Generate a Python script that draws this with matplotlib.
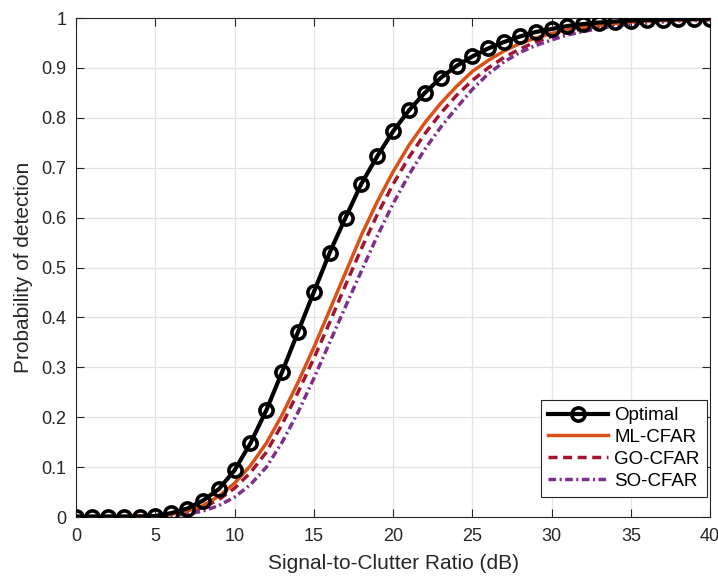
import matplotlib.pyplot as plt
import numpy as np

plt.rcParams['font.family'] = ['Liberation Sans', 'DejaVu Sans']

# SCR grid (dB)
scr = list(range(0, 41))

optimal = [0.001, 0.001, 0.001, 0.001, 0.001, 0.002, 0.008, 0.017, 0.033, 0.056,
           0.094, 0.148, 0.214, 0.291, 0.371, 0.451, 0.530, 0.600, 0.668, 0.723,
           0.773, 0.815, 0.850, 0.880, 0.904, 0.923, 0.939, 0.952, 0.963, 0.972,
           0.978, 0.984, 0.988, 0.991, 0.993, 0.995, 0.996, 0.997, 0.998, 0.998,
           0.999]

ml_cfar = [0.001, 0.001, 0.001, 0.001, 0.002, 0.003, 0.006, 0.012, 0.023, 0.042,
           0.068, 0.103, 0.148, 0.205, 0.270, 0.340, 0.415, 0.490, 0.565, 0.632,
           0.692, 0.745, 0.790, 0.829, 0.863, 0.893, 0.915, 0.934, 0.949, 0.960,
           0.969, 0.976, 0.982, 0.986, 0.989, 0.992, 0.994, 0.995, 0.996, 0.997,
           0.998]

go_cfar = [0.001, 0.001, 0.001, 0.001, 0.001, 0.002, 0.005, 0.010, 0.019, 0.035,
           0.058, 0.089, 0.130, 0.186, 0.250, 0.318, 0.390, 0.465, 0.538, 0.606,
           0.667, 0.721, 0.768, 0.809, 0.845, 0.875, 0.900, 0.921, 0.938, 0.952,
           0.963, 0.972, 0.979, 0.984, 0.988, 0.991, 0.993, 0.995, 0.996, 0.997,
           0.997]

so_cfar = [0.001, 0.001, 0.001, 0.001, 0.001, 0.001, 0.003, 0.006, 0.012, 0.023,
           0.040, 0.065, 0.100, 0.150, 0.210, 0.278, 0.350, 0.422, 0.493, 0.563,
           0.628, 0.686, 0.737, 0.781, 0.820, 0.857, 0.888, 0.912, 0.931, 0.945,
           0.956, 0.966, 0.973, 0.979, 0.984, 0.988, 0.990, 0.992, 0.994, 0.995,
           0.996]

x_ticks = [0, 5, 10, 15, 20, 25, 30, 35, 40]
y_ticks = [0, 0.1, 0.2, 0.3, 0.4, 0.5, 0.6, 0.7, 0.8, 0.9, 1]
y_labels = ['0', '0.1', '0.2', '0.3', '0.4', '0.5', '0.6', '0.7', '0.8', '0.9', '1']

fig = plt.figure(figsize=(7.18, 5.81), dpi=100)
ax = fig.add_axes([0.106, 0.110, 0.883, 0.859])

ax.plot(scr, optimal, '-o', color='black', lw=3, ms=9.5, mfc='none', mew=2.6,
        label='Optimal', zorder=5)
ax.plot(scr, ml_cfar, '-', color='#D95319', lw=2.5, label='ML-CFAR', zorder=4)
ax.plot(scr, go_cfar, '--', color='#A2142F', lw=2.5, dashes=(2.6, 1.6), label='GO-CFAR', zorder=3)
ax.plot(scr, so_cfar, '-.', color='#7E2F8E', lw=2.5, dashes=(2.2, 1.0, 0.6, 1.0), label='SO-CFAR', zorder=3)

ax.set_xlim(0, 40)
ax.set_ylim(0, 1)
ax.set_xticks(x_ticks)
ax.set_yticks(y_ticks)
ax.set_yticklabels(y_labels)
ax.tick_params(direction='in', top=True, right=True, labelsize=13, length=6, width=0.8,
               colors='#262626')
ax.tick_params(axis='x', pad=8)
ax.tick_params(axis='y', pad=7)
ax.grid(True, color='#e3e3e3', lw=0.9)
ax.set_axisbelow(True)
for s in ax.spines.values():
    s.set_color('#262626')
    s.set_linewidth(0.8)

ax.set_xlabel('Signal-to-Clutter Ratio (dB)', fontsize=15, color='#262626', labelpad=6)
ax.set_ylabel('Probability of detection', fontsize=15, color='#262626', labelpad=6)

leg = ax.legend(loc='lower right', bbox_to_anchor=(0.995, 0.04), borderaxespad=0,
                fontsize=13.5, fancybox=False, framealpha=1,
                edgecolor='#262626', handlelength=3.2,
                labelspacing=0.25, handletextpad=0.3)
leg.get_frame().set_linewidth(0.8)

fig.savefig('out.png', dpi=100)
